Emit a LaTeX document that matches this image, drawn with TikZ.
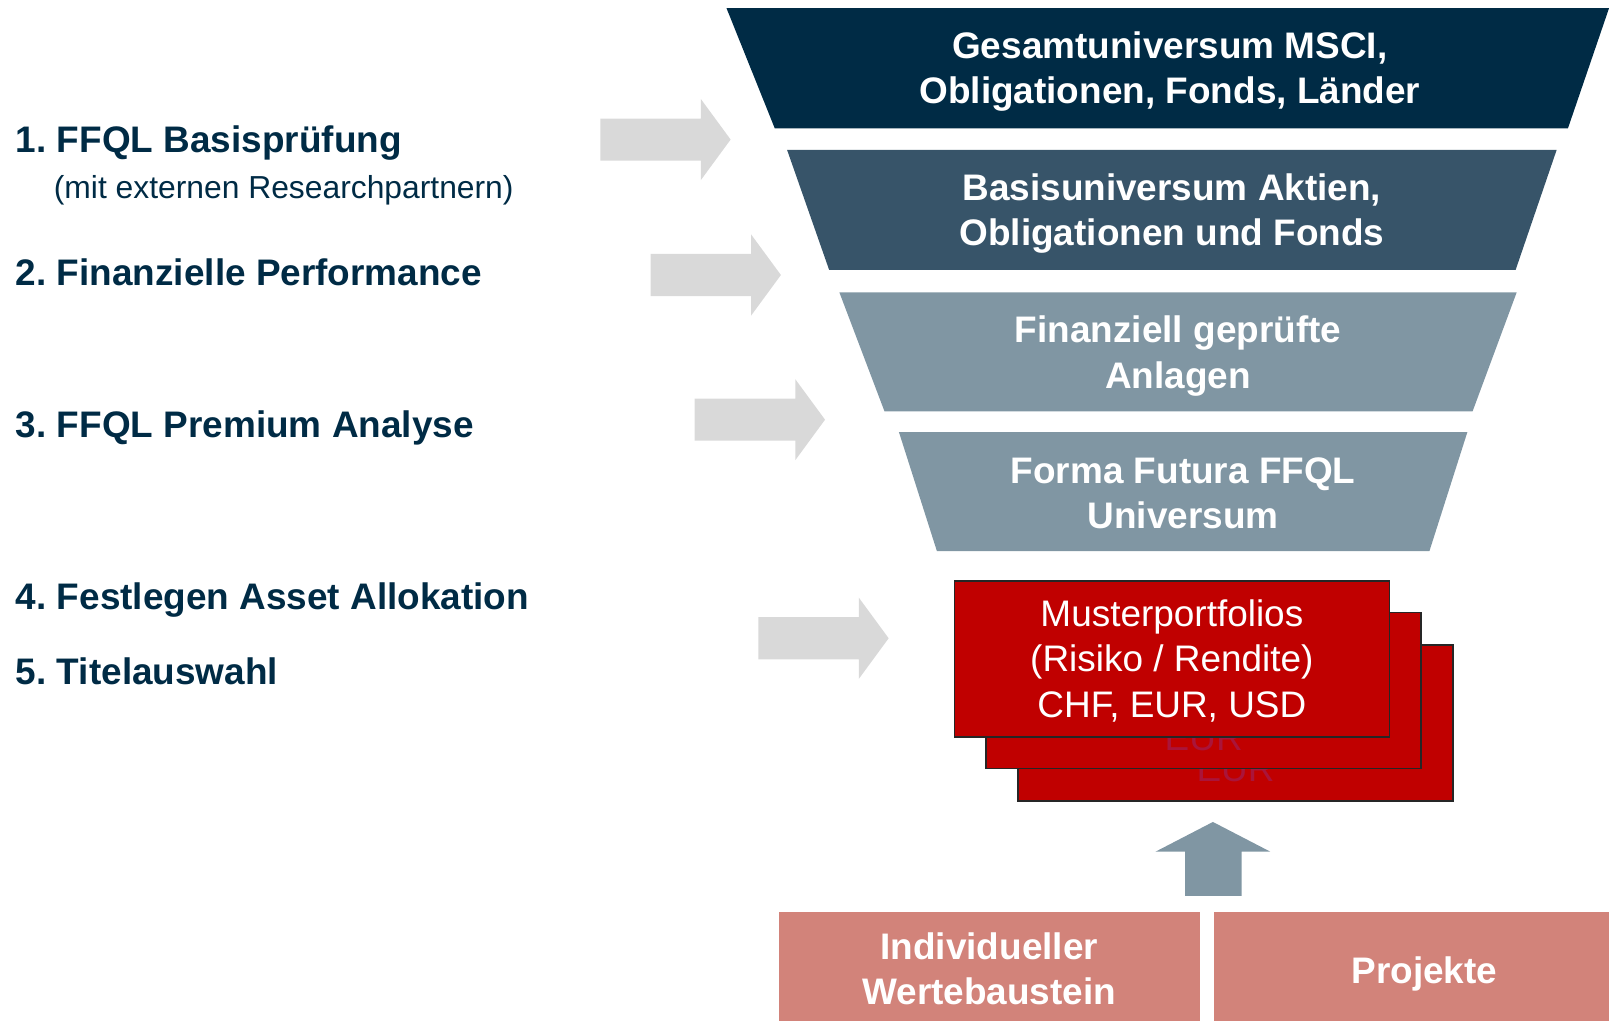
\documentclass[tikz,border=0pt]{standalone}
\usepackage{fontspec}
\setmainfont{Liberation Sans}
\usepackage{tikz}

\definecolor{navy}{HTML}{002B45}
\definecolor{slate}{HTML}{375469}
\definecolor{steel}{HTML}{8096A3}
\definecolor{ffred}{HTML}{C00000}
\definecolor{salmon}{HTML}{D2837A}
\definecolor{arrowgray}{HTML}{D9D9D9}
\definecolor{faintred}{RGB}{170,20,58}

\begin{document}
\frenchspacing
\begin{tikzpicture}[x=1pt,y=-1pt,
  steptext/.style={anchor=base west,text=navy,font=\fontsize{36}{44}\selectfont\bfseries},
  layertext/.style={text=white,align=center,font=\fontsize{36}{44}\selectfont\bfseries},
  card/.style={draw=black!85,line width=1.5pt,fill=ffred,minimum width=424,minimum height=152,inner sep=0pt},
  basebox/.style={fill=salmon,minimum width=410,minimum height=106,inner sep=0pt},
  basetext/.style={text=white,align=center,font=\fontsize{36}{44}\selectfont\bfseries}]
\useasboundingbox (0,0) rectangle (1568,995);

% steps on the left
\node[steptext] (s1) at (12,149) {1. FFQL Basisprüfung};
\node[anchor=base west,text=navy,font=\fontsize{31}{36}\selectfont] (s1b) at (49,193) {(mit externen Researchpartnern)};
\node[steptext] (s2) at (12,278) {2. Finanzielle Performance};
\node[steptext] (s3) at (12,426) {3. FFQL Premium Analyse};
\node[steptext] (s4) at (12,594) {4. Festlegen Asset Allokation};
\node[steptext] (s5) at (12,667) {5. Titelauswahl};

% gray arrows
\foreach \tx/\ty in {712/136, 761/268, 804/409, 866/622}
  \fill[arrowgray] (\tx-127,\ty-20.5) -- (\tx-29,\ty-20.5) -- (\tx-29,\ty-39.5) -- (\tx,\ty)
    -- (\tx-29,\ty+39.5) -- (\tx-29,\ty+20.5) -- (\tx-127,\ty+20.5) -- cycle;

% funnel
\fill[navy] (708,8) -- (1568,8) -- (1528,125) -- (755,125) -- cycle;
\fill[slate] (767,146) -- (1517,146) -- (1477,263) -- (808,263) -- cycle;
\fill[steel] (818,285) -- (1478,285) -- (1435,401) -- (862,401) -- cycle;
\fill[steel] (876,421) -- (1430,421) -- (1393,537) -- (913,537) -- cycle;
\node[layertext] (l1) at (1140,70) {Gesamtuniversum MSCI,\\Obligationen, Fonds, Länder};
\node[layertext] (l2) at (1142,208) {Basisuniversum Aktien,\\Obligationen und Fonds};
\node[layertext] (l3) at (1148,347) {Finanziell geprüfte\\Anlagen};
\node[layertext] (l4) at (1153,481) {Forma Futura FFQL\\Universum};

% portfolios
\node[card] (c3) at (1204,704.5) {};
\node[anchor=base,text=faintred,font=\fontsize{36}{44}\selectfont] (e3) at (1204,762) {EUR};
\node[card] (c2) at (1173,673) {};
\node[anchor=base,text=faintred,font=\fontsize{36}{44}\selectfont] (e2) at (1173,731) {EUR};
\node[card] (c1) at (1142,642) {};
\node[text=white,align=center,font=\fontsize{36}{44}\selectfont] (m1) at (1142,644)
  {Musterportfolios\\(Risiko / Rendite)\\CHF, EUR, USD};

% up arrow
\fill[steel] (1155,873) -- (1155,830) -- (1126,830) -- (1182,801) -- (1238,830) -- (1210,830) -- (1210,873) -- cycle;

% bottom boxes
\node[basebox] (b1) at (964,942) {};
\node[basebox] (b2) at (1388,942) {};
\node[basetext] at (964,944) {Individueller\\Wertebaustein};
\node[basetext] at (1388,949) {Projekte};
\end{tikzpicture}
\end{document}
